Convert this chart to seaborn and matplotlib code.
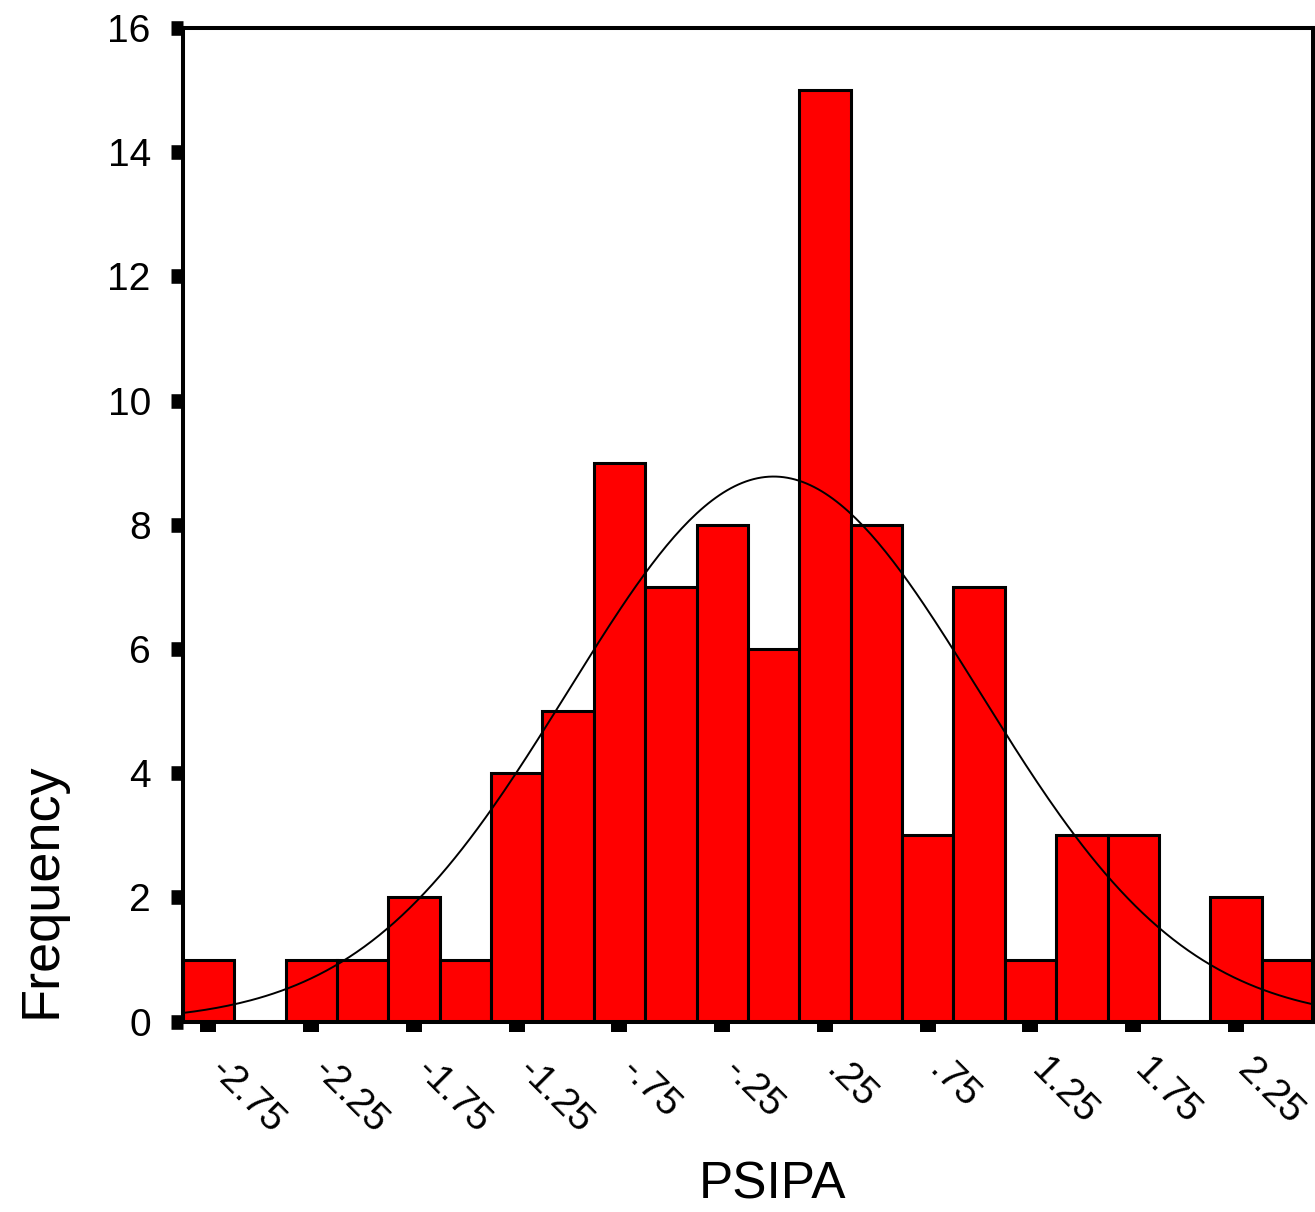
import numpy as np
import pandas as pd
import matplotlib
matplotlib.use('Agg')
import matplotlib.pyplot as plt
import seaborn as sns

# bin centres (width .25) and counts
centros = [-2.75, -2.5, -2.25, -2.0, -1.75, -1.5, -1.25, -1.0, -0.75, -0.5, -0.25,
           0.0, 0.25, 0.5, 0.75, 1.0, 1.25, 1.5, 1.75, 2.0, 2.25, 2.5]
contagens = [1, 0, 1, 1, 2, 1, 4, 5, 9, 7, 8, 6, 15, 8, 3, 7, 1, 3, 3, 0, 2, 1]
largura = 0.25

# normal curve parameters (std. values)
media = 0.0
desvio = 1.0

rotulos_x = ['-2.75', '-2.25', '-1.75', '-1.25', '-.75', '-.25',
             '.25', '.75', '1.25', '1.75', '2.25']
ticks_x = [-2.75, -2.25, -1.75, -1.25, -0.75, -0.25, 0.25, 0.75, 1.25, 1.75, 2.25]

df = pd.DataFrame({'PSIPA': centros, 'n': contagens})
inicio = centros[0] - largura / 2
fim = centros[-1] + largura / 2

sns.set_style('ticks')
plt.rcParams['font.family'] = ['Liberation Sans', 'DejaVu Sans']
plt.rcParams['text.color'] = 'black'
plt.rcParams['axes.labelcolor'] = 'black'
plt.rcParams['xtick.color'] = 'black'
plt.rcParams['ytick.color'] = 'black'

fig = plt.figure(figsize=(13.15, 12.12), dpi=100)
ax = fig.add_axes([0.139, 0.157, 0.8595, 0.82])

sns.histplot(data=df, x='PSIPA', weights='n', binwidth=largura, binrange=(inicio, fim),
             color='#ff0000', edgecolor='black', linewidth=2.2, alpha=1, ax=ax)

# fitted normal curve
xs = np.linspace(inicio, fim, 300)
n_total = sum(contagens)
ys = n_total * largura * np.exp(-0.5 * ((xs - media) / desvio) ** 2) / (desvio * np.sqrt(2 * np.pi))
sns.lineplot(x=xs, y=ys, color='black', linewidth=1.4, ax=ax)

ax.set_xlim(inicio, fim)
ax.set_ylim(0, 16)
ax.set_yticks(range(0, 17, 2))
ax.set_xticks(ticks_x)
ax.set_xticklabels(rotulos_x, rotation=-45, ha='left', va='baseline', rotation_mode='anchor')

for s in ax.spines.values():
    s.set_visible(True)
    s.set_linewidth(2.9)
    s.set_color('black')

ax.tick_params(axis='y', length=9, width=10.5, labelsize=28, pad=14)
ax.tick_params(axis='x', length=7, width=11.5, labelsize=28, pad=29)

ax.set_xlabel('PSIPA', fontsize=37)
ax.xaxis.set_label_coords(0.522, -0.178)
ax.xaxis.label.set_verticalalignment('baseline')

ax.set_ylabel('Frequency', fontsize=39, loc='bottom')
ax.yaxis.set_label_coords(-0.103, 0.004)

plt.savefig('out.png', dpi=100)
